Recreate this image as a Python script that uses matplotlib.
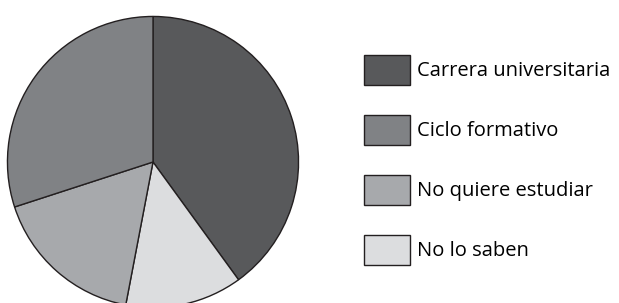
import matplotlib
matplotlib.use("Agg")
import matplotlib.pyplot as plt

# data (percentages)
labels = ["Carrera universitaria", "Ciclo formativo", "No quiere estudiar", "No lo saben"]
values = [40, 30, 17, 13]
colors = ["#58595b", "#808285", "#a7a9ac", "#dcdddf"]

# pie order goes clockwise from the top: carrera, no lo saben, no quiere, ciclo
pie_order = [0, 3, 2, 1]

plt.rcParams["font.family"] = ["Open Sans", "DejaVu Sans"]

W, H = 619, 303
fig = plt.figure(figsize=(W / 100, H / 100), dpi=100)

# pie centre at (153, 162) px, radius 147 px
cx, cy, r = 153, 162, 147
ax = fig.add_axes([(cx - r) / W, (H - cy - r) / H, 2 * r / W, 2 * r / H])
wedges, _ = ax.pie([values[i] for i in pie_order],
                   colors=[colors[i] for i in pie_order],
                   startangle=90, counterclock=False, radius=1,
                   wedgeprops=dict(edgecolor="#231f20", linewidth=1.0))
ax.set_xlim(-1.01, 1.01)
ax.set_ylim(-1.01, 1.01)
ax.set_aspect("equal")
ax.axis("off")

# legend handles in label order
handles = [wedges[pie_order.index(i)] for i in range(len(labels))]
fs = 14.5
fig.legend(handles, labels, loc="upper left",
           bbox_to_anchor=(364 / W, (H - 55) / H),
           frameon=False, fontsize=fs, borderpad=0, borderaxespad=0,
           handlelength=2.28, handleheight=1.915, handletextpad=0.33,
           labelspacing=1.49)

fig.savefig("out.png", dpi=100)
